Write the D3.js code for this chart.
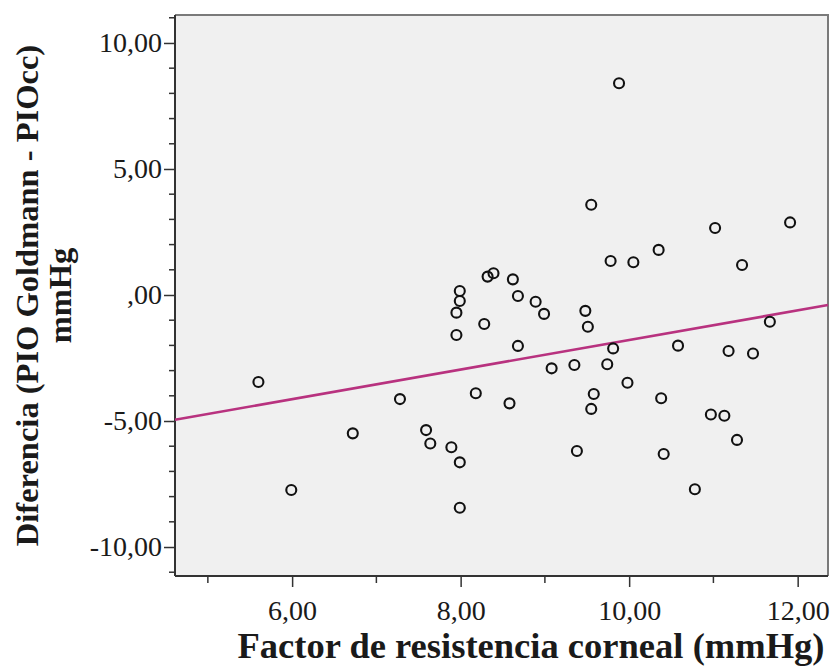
<!DOCTYPE html>
<html>
<head>
<meta charset="utf-8">
<script src="https://cdn.jsdelivr.net/npm/d3@7"></script>
<style>
html,body{margin:0;padding:0;background:#fff;}
svg{display:block;}
</style>
</head>
<body>
<svg id="chart" width="830" height="666"></svg>
<script>
// Data
const resistencia = [5.60,5.99,6.72,7.28,7.59,7.64,7.89,7.99,7.99,7.99,7.99,7.95,7.95,8.28,8.18,8.32,8.39,8.62,8.68,8.68,8.58,8.89,8.99,9.08,9.35,9.48,9.51,9.58,9.55,9.38,9.55,9.88,11.02,11.91,9.78,10.05,10.35,11.34,9.81,9.74,10.58,11.67,11.18,11.47,9.98,10.38,10.97,11.13,11.28,10.41,10.78];
const diferencia  = [-3.45,-7.74,-5.49,-4.13,-5.36,-5.89,-6.04,-6.64,-8.44,0.16,-0.24,-0.70,-1.59,-1.15,-3.90,0.73,0.86,0.62,-0.04,-2.02,-4.30,-0.27,-0.75,-2.91,-2.78,-0.63,-1.26,-3.93,-4.52,-6.19,3.58,8.40,2.66,2.88,1.35,1.30,1.79,1.19,-2.12,-2.75,-2.01,-1.06,-2.22,-2.32,-3.48,-4.10,-4.74,-4.79,-5.75,-6.31,-7.71];
const fitLineX = [4.61, 12.36];
const fitLineY = [-4.95, -0.40];
const xTicks = [6, 8, 10, 12];
const xTickLabels = ["6,00", "8,00", "10,00", "12,00"];
const xMinorTicks = [5, 7, 9, 11];
const yTicks = [10, 5, 0, -5, -10];
const yTickLabels = ["10,00", "5,00", ",00", "-5,00", "-10,00"];
const yMinorTicks = [11, 9, 8, 7, 6, 4, 3, 2, 1, -1, -2, -3, -4, -6, -7, -8, -9, -11];
const xTitle = "Factor de resistencia corneal (mmHg)";
const yTitleLines = ["Diferencia (PIO Goldmann - PIOcc)", "mmHg"];

const svg = d3.select("#chart");
const L = 175, R = 828, T = 15, B = 576;
const x = d3.scaleLinear().domain([4.61, 12.36]).range([L, R]);
const y = d3.scaleLinear().domain([-11.15, 11.11]).range([B, T]);

// plot background
svg.append("rect").attr("x", L).attr("y", T).attr("width", R - L).attr("height", B - T)
  .attr("fill", "#f0f0f0");
// top & right border
svg.append("path").attr("d", `M${L},${T}H${R}V${B}`).attr("fill", "none")
  .attr("stroke", "#7a7a7a").attr("stroke-width", 2);

const font = "'Liberation Serif','Times New Roman',serif";

// x axis
const gx = svg.append("g").attr("transform", `translate(0,${B})`)
  .call(d3.axisBottom(x).tickValues(xTicks).tickFormat((d, i) => xTickLabels[i]).tickSize(11).tickPadding(13));
gx.append("g").selectAll("line").data(xMinorTicks).join("line")
  .attr("x1", d => x(d)).attr("x2", d => x(d)).attr("y1", 0).attr("y2", 7)
  .attr("stroke", "#333").attr("stroke-width", 1.5);
// y axis
const gy = svg.append("g").attr("transform", `translate(${L},0)`)
  .call(d3.axisLeft(y).tickValues(yTicks).tickFormat((d, i) => yTickLabels[i]).tickSize(11).tickPadding(2));
gy.append("g").selectAll("line").data(yMinorTicks).join("line")
  .attr("y1", d => y(d)).attr("y2", d => y(d)).attr("x1", 0).attr("x2", -6)
  .attr("stroke", "#333").attr("stroke-width", 1.5);

[gx, gy].forEach(g => {
  g.select(".domain").attr("stroke", "#333").attr("stroke-width", 2);
  g.selectAll(".tick line").attr("stroke", "#333").attr("stroke-width", 1.5);
  g.selectAll(".tick text").attr("font-family", font).attr("font-size", 28).attr("fill", "#1a1a1a");
});
gx.select(".domain").attr("d", `M${L},0H${R}`);
gy.select(".domain").attr("d", `M0,${B}V${T}`);

// regression line
svg.append("line")
  .attr("x1", x(fitLineX[0])).attr("y1", y(fitLineY[0]))
  .attr("x2", x(fitLineX[1])).attr("y2", y(fitLineY[1]))
  .attr("stroke", "#b8327f").attr("stroke-width", 2.6);

// points
svg.append("g").selectAll("circle").data(resistencia).join("circle")
  .attr("cx", d => x(d)).attr("cy", (d, i) => y(diferencia[i]))
  .attr("r", 5).attr("fill", "none").attr("stroke", "#111").attr("stroke-width", 2.1);

// titles
svg.append("text").attr("x", 531).attr("y", 658)
  .attr("text-anchor", "middle").attr("font-family", font).attr("font-weight", "bold")
  .attr("font-size", 35).attr("fill", "#1a1a1a").attr("textLength", 587).attr("lengthAdjust", "spacingAndGlyphs")
  .text(xTitle);

const yt = svg.append("text").attr("transform", `translate(0,${(T + B) / 2}) rotate(-90)`)
  .attr("text-anchor", "middle").attr("font-family", font).attr("font-weight", "bold")
  .attr("font-size", 32.5).attr("fill", "#1a1a1a");
yt.append("tspan").attr("x", 0).attr("y", 38).text(yTitleLines[0]);
yt.append("tspan").attr("x", 0).attr("y", 71).text(yTitleLines[1]);
</script>
</body>
</html>
